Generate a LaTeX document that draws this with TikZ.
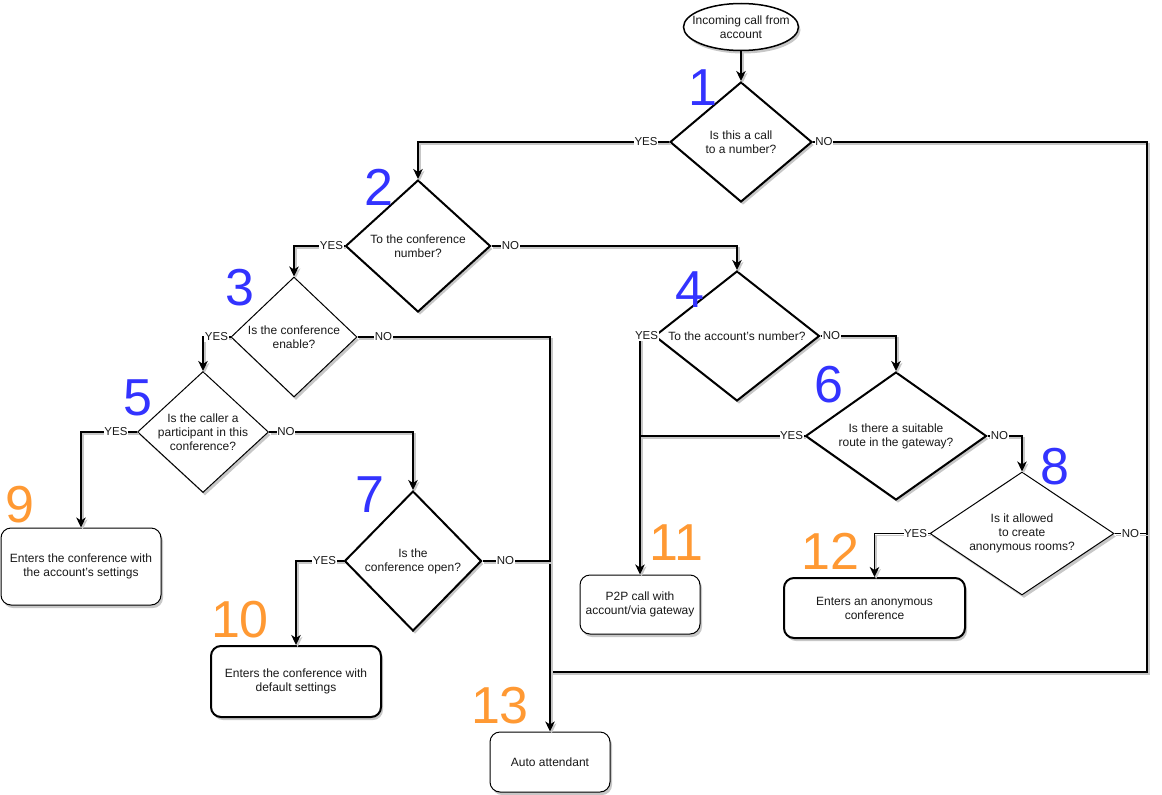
\documentclass[tikz,border=0pt]{standalone}
\usepackage{fontspec}
\setmainfont{Liberation Sans}
\usetikzlibrary{shapes.geometric,arrows.meta,shadows,calc}
\definecolor{numblue}{RGB}{51,51,255}
\definecolor{numorange}{RGB}{255,153,51}
\definecolor{txtc}{RGB}{25,25,25}
\begin{document}
\begin{tikzpicture}[x=1pt,y=-1pt,
  shadowed/.style={drop shadow={shadow xshift=2pt,shadow yshift=-3pt,opacity=0.22,fill=black}},
  dia/.style={diamond, draw, fill=white, inner sep=0pt, shadowed},
  thickln/.style={line width=2pt},
  thinln/.style={line width=1pt},
  dtext/.style={font=\fontsize{12}{14}\selectfont, align=center, text=txtc},
  box/.style={rectangle, rounded corners=10pt, draw, fill=white, shadowed, align=center,
              font=\fontsize{12}{14}\selectfont, text=txtc},
  edge/.style={line width=1.9pt, preaction={draw=black!22, line width=1.9pt, transform canvas={shift={(1.6pt,-2pt)}}}},
  arr/.style={edge, -{Stealth[length=10pt,width=9.5pt,inset=3pt]}},
  lab/.style={fill=white, inner sep=0.5pt, font=\fontsize{11.5}{12}\selectfont, text=txtc},
  numb/.style={inner sep=0pt, font=\fontsize{52}{52}\selectfont},
  nb/.style={numb, text=numblue},
  no/.style={numb, text=numorange},
]
\useasboundingbox (0,0) rectangle (1162,795);
\fill[white] (0,0) rectangle (1162,795);

% helper coordinates for the long NO loop
\coordinate (r1) at (1147,142);
\coordinate (r2) at (1147,672);

% start
\node[ellipse, draw, fill=white, line width=1.5pt, shadowed, minimum width=115pt, minimum height=47pt,
      label={[dtext]center:Incoming call from\\account}] (e0) at (741,27) {};

% decisions
\node[dia, thickln, minimum width=142pt, minimum height=120pt,
      label={[dtext]center:Is this a call\\to a number?}] (d1) at (741,142) {};
\node[dia, thickln, minimum width=145pt, minimum height=132pt,
      label={[dtext]center:To the conference\\number?}] (d2) at (418,246) {};
\node[dia, thinln, minimum width=126pt, minimum height=120pt,
      label={[dtext]center:Is the conference\\enable?}] (d3) at (294,337) {};
\node[dia, thickln, minimum width=165pt, minimum height=130pt,
      label={[dtext]center:To the account's number?}] (d4) at (737,336) {};
\node[dia, thinln, minimum width=131pt, minimum height=121pt,
      label={[dtext]center:Is the caller a\\participant in this\\conference?}] (d5) at (203,432) {};
\node[dia, thickln, minimum width=181pt, minimum height=128pt,
      label={[dtext]center:Is there a suitable\\route in the gateway?}] (d6) at (896,436) {};
\node[dia, thickln, minimum width=137pt, minimum height=140pt,
      label={[dtext]center:Is the\\conference open?}] (d7) at (413,561) {};
\node[dia, thinln, minimum width=184pt, minimum height=123pt,
      label={[dtext]center:Is it allowed\\to create\\anonymous rooms?}] (d8) at (1022,533.5) {};

% results
\node[box, thinln, minimum width=160pt, minimum height=77pt] (b9) at (81,566.5)
  {Enters the conference with\\the account's settings};
\node[box, thickln, minimum width=170pt, minimum height=71pt] (b10) at (296,681.5)
  {Enters the conference with\\default settings};
\node[box, thinln, minimum width=120pt, minimum height=59pt] (b11) at (640,604.5)
  {P2P call with\\account/via gateway};
\node[box, thickln, minimum width=181pt, minimum height=60pt] (b12) at (874.5,608)
  {Enters an anonymous\\conference};
\node[box, thinln, minimum width=120pt, minimum height=60pt] (b13) at (550,762)
  {Auto attendant};

% numbers
\node[nb] (n1) at (703,88) {1};
\node[nb] (n2) at (379,187) {2};
\node[nb] (n3) at (240,288) {3};
\node[nb] (n4) at (690,290) {4};
\node[nb] (n5) at (138,398) {5};
\node[nb] (n6) at (829,385) {6};
\node[nb] (n7) at (370,495) {7};
\node[nb] (n8) at (1055,467) {8};
\node[no] (n9) at (20,505) {9};
\node[no] (n10) at (240,620) {10};
\node[no] (n11) at (676,543) {11};
\node[no] (n12) at (830,551) {12};
\node[no] (n13) at (500,706) {13};

% connectors
\draw[arr] (e0.south) -- (d1.north);
\draw[arr] (d1.west) -| node[lab,pos=0,xshift=-23pt]{YES} (d2.north);
\draw[edge] (d1.east) -- node[lab,pos=0,xshift=11pt]{NO} (r1) -- (r2) -- (r2 -| b13.north);
\draw[arr] (d2.west) -| node[lab,pos=0,xshift=-13pt]{YES} (d3.north);
\draw[arr] (d2.east) -| node[lab,pos=0,xshift=19pt]{NO} (d4.north);
\draw[arr] (d3.west) -| node[lab,pos=0,xshift=-14pt]{YES} (d5.north);
\draw[arr] (d3.east) -| node[lab,pos=0,xshift=26pt]{NO} (b13.north);
\draw[arr] (d5.west) -| node[lab,pos=0,xshift=-21pt]{YES} (b9.north);
\draw[arr] (d5.east) -| node[lab,pos=0,xshift=17pt]{NO} (d7.north);
\draw[arr] (d7.west) -| node[lab,pos=0,xshift=-19pt]{YES} (b10.north);
\draw[edge] (d7.east) -- node[lab,pos=0,xshift=23pt]{NO} (d7.east -| b13.north);
\draw[arr] (d4.west) -| node[lab,pos=0,xshift=-7pt]{YES} (b11.north);
\draw[arr] (d4.east) -| node[lab,pos=0,xshift=11pt]{NO} (d6.north);
\draw[edge] (d6.west) -- node[lab,pos=0,xshift=-13pt]{YES} (d6.west -| b11.north);
\draw[arr] (d6.east) -| node[lab,pos=0,xshift=12pt]{NO} (d8.north);
\draw[arr] (d8.west) -| node[lab,pos=0,xshift=-14pt]{YES} (b12.north);
\draw[edge] (d8.east) -- node[lab,pos=0,xshift=16pt]{NO} (d8.east -| r1);
\end{tikzpicture}
\end{document}
